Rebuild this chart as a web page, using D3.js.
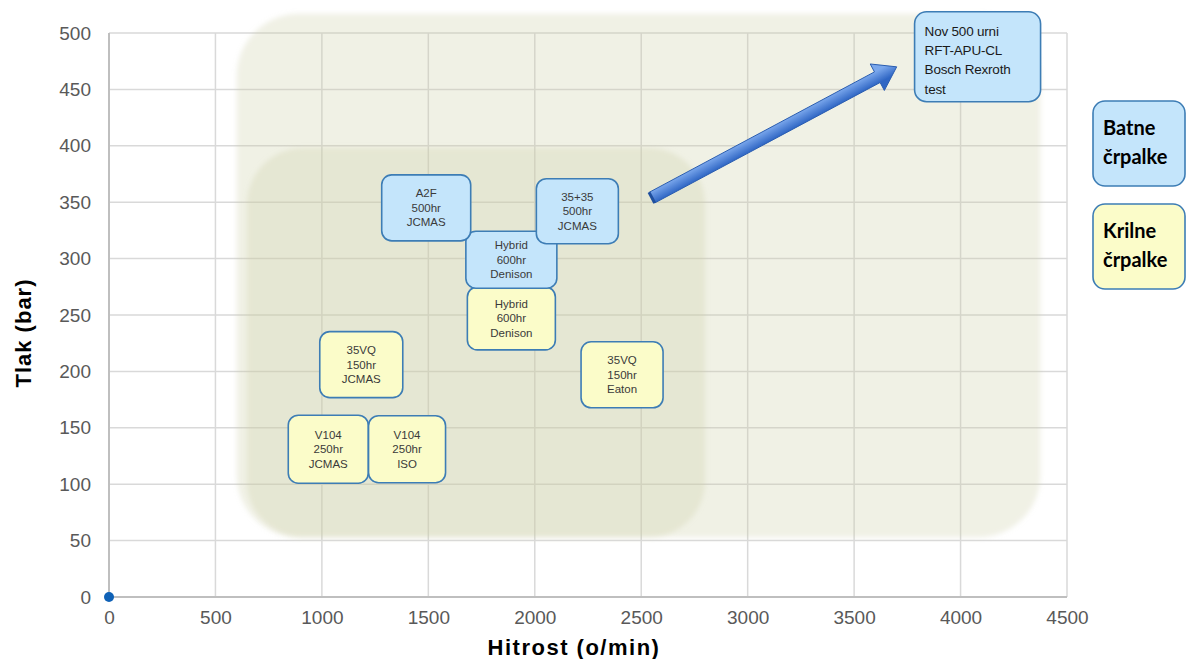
<!DOCTYPE html>
<html>
<head>
<meta charset="utf-8">
<script src="https://cdn.jsdelivr.net/npm/d3@7"></script>
<style>
  body { margin: 0; background: #fff; }
  svg { display: block; }
</style>
</head>
<body>
<script>
// ticks
var xTicks = [0, 500, 1000, 1500, 2000, 2500, 3000, 3500, 4000, 4500];
var yTicks = [0, 50, 100, 150, 200, 250, 300, 350, 400, 450, 500];

// testi črpalk (hitrost o/min, tlak bar)
var testLabels = [
  ["Hybrid", "600hr", "Denison"],
  ["Hybrid", "600hr", "Denison"],
  ["A2F", "500hr", "JCMAS"],
  ["35+35", "500hr", "JCMAS"],
  ["35VQ", "150hr", "JCMAS"],
  ["35VQ", "150hr", "Eaton"],
  ["V104", "250hr", "JCMAS"],
  ["V104", "250hr", "ISO"]
];
var testSpeed = [1890, 1890, 1490, 2200, 1185, 2410, 1030, 1400];
var testPressure = [247, 299, 345, 342, 206, 197, 131, 131];
var testType = ["krilne", "batne", "batne", "batne", "krilne", "krilne", "krilne", "krilne"];

// nov test
var newLabel = ["Nov 500 urni", "RFT-APU-CL", "Bosch Rexroth", "test"];
var newSpeed = 4080;
var newPressure = 479;

// puščica od obstoječih testov do novega
var arrowFrom = [2550, 354];
var arrowTo = [3700, 470];

// področja (x0, x1, y0, y1)
var zoneOuter = [600, 4375, 53, 517];
var zoneInner = [648, 2800, 53, 398];

// izhodišče
var originPoint = [0, 0];

// legenda
var legendLabels = [["Batne", "črpalke"], ["Krilne", "črpalke"]];
var legendTypes = ["batne", "krilne"];

// velikosti okvirjev (px)
var boxW = [88, 91, 89, 82, 83, 82, 80, 77];
var boxH = [63, 57, 66, 65, 66, 66, 68, 67];

var fills = { batne: "#c4e5fb", krilne: "#fbfcc9" };
var strokeCol = "#3d7db5";

var W = 1186, H = 659;
var svg = d3.select("body").append("svg")
    .attr("width", W)
    .attr("height", H);

var x = d3.scaleLinear().domain([0, 4500]).range([109, 1067]);
var y = d3.scaleLinear().domain([0, 500]).range([597, 33]);

var defs = svg.append("defs");
defs.append("filter").attr("id", "soft")
    .attr("x", "-5%").attr("y", "-5%").attr("width", "110%").attr("height", "110%")
    .append("feGaussianBlur").attr("stdDeviation", 2.5);

var grad = defs.append("linearGradient").attr("id", "arrowGrad")
    .attr("gradientUnits", "userSpaceOnUse");

// mreža
var grid = svg.append("g");
grid.selectAll("line.v")
    .data(xTicks)
    .enter().append("line")
    .attr("x1", d => x(d)).attr("x2", d => x(d))
    .attr("y1", y(0)).attr("y2", y(500))
    .attr("stroke", "#d9d9d9").attr("stroke-width", 1.5);
grid.selectAll("line.h")
    .data(yTicks)
    .enter().append("line")
    .attr("x1", x(0)).attr("x2", x(4500))
    .attr("y1", d => y(d)).attr("y2", d => y(d))
    .attr("stroke", "#d9d9d9").attr("stroke-width", 1.5);

// osi
svg.append("line")
    .attr("x1", x(0)).attr("x2", x(0)).attr("y1", y(0)).attr("y2", y(500))
    .attr("stroke", "#bfbfbf").attr("stroke-width", 2);
svg.append("line")
    .attr("x1", x(0)).attr("x2", x(4500)).attr("y1", y(0)).attr("y2", y(0))
    .attr("stroke", "#bfbfbf").attr("stroke-width", 2);

// področja
[zoneOuter, zoneInner].forEach(function (z, i) {
    svg.append("rect")
        .attr("x", x(z[0]))
        .attr("y", y(z[3]))
        .attr("width", x(z[1]) - x(z[0]))
        .attr("height", y(z[2]) - y(z[3]))
        .attr("rx", i == 0 ? 62 : 56)
        .attr("fill", "rgb(200,204,160)")
        .attr("fill-opacity", 0.28)
        .attr("filter", "url(#soft)");
});

// oznake osi
var xAxis = d3.axisBottom(x).tickValues(xTicks).tickFormat(d3.format("d")).tickSize(0).tickPadding(14);
var gx = svg.append("g").attr("transform", "translate(0," + y(0) + ")").call(xAxis);
var yAxis = d3.axisLeft(y).tickValues(yTicks).tickFormat(d3.format("d")).tickSize(0).tickPadding(18);
var gy = svg.append("g").attr("transform", "translate(" + x(0) + ",0)").call(yAxis);
[gx, gy].forEach(function (g) {
    g.select(".domain").remove();
    g.selectAll("text")
        .attr("font-family", "Liberation Sans, Arial, sans-serif")
        .attr("font-size", 19)
        .attr("fill", "#595959");
});

svg.append("text")
    .attr("x", 574).attr("y", 655)
    .attr("text-anchor", "middle")
    .attr("font-family", "Liberation Sans, Arial, sans-serif")
    .attr("font-weight", "bold")
    .attr("font-size", 22)
    .attr("letter-spacing", 1.5)
    .text("Hitrost (o/min)");

svg.append("text")
    .attr("transform", "translate(31,333) rotate(-90)")
    .attr("text-anchor", "middle")
    .attr("font-family", "Liberation Sans, Arial, sans-serif")
    .attr("font-weight", "bold")
    .attr("font-size", 22)
    .attr("letter-spacing", 1)
    .text("Tlak (bar)");

// izhodišče
svg.append("circle")
    .attr("cx", x(originPoint[0])).attr("cy", y(originPoint[1]))
    .attr("r", 5).attr("fill", "#0f61b6");

// puščica
var ax0 = x(arrowFrom[0]), ay0 = y(arrowFrom[1]);
var ax1 = x(arrowTo[0]), ay1 = y(arrowTo[1]);
var dx = ax1 - ax0, dy = ay1 - ay0, len = Math.sqrt(dx * dx + dy * dy);
var ux = dx / len, uy = dy / len, nx = -uy, ny = ux;
var shaftHalf = 6, headHalf = 15, headLen = 22;
var bx = ax1 - ux * headLen, by = ay1 - uy * headLen;
var pts = [
    [ax0 + nx * shaftHalf, ay0 + ny * shaftHalf],
    [bx + nx * shaftHalf, by + ny * shaftHalf],
    [bx + nx * headHalf, by + ny * headHalf],
    [ax1, ay1],
    [bx - nx * headHalf, by - ny * headHalf],
    [bx - nx * shaftHalf, by - ny * shaftHalf],
    [ax0 - nx * shaftHalf, ay0 - ny * shaftHalf]
];
grad.attr("x1", ax0 - nx * shaftHalf).attr("y1", ay0 - ny * shaftHalf)
    .attr("x2", ax0 + nx * shaftHalf).attr("y2", ay0 + ny * shaftHalf);
grad.append("stop").attr("offset", "0%").attr("stop-color", "#7aa7ec");
grad.append("stop").attr("offset", "100%").attr("stop-color", "#2f66c4");
svg.append("path")
    .attr("d", d3.line()(pts) + "Z")
    .attr("fill", "url(#arrowGrad)")
    .attr("stroke", "#2a5db0")
    .attr("stroke-width", 1)
    .attr("stroke-linejoin", "round");
svg.append("line")
    .attr("x1", ax0 + nx * shaftHalf).attr("y1", ay0 + ny * shaftHalf)
    .attr("x2", ax0 - nx * shaftHalf).attr("y2", ay0 - ny * shaftHalf)
    .attr("stroke", "#1f4f9e").attr("stroke-width", 3);

// okvirji testov
var boxes = svg.selectAll("g.box")
    .data(testLabels)
    .enter().append("g")
    .attr("transform", function (d, i) {
        return "translate(" + x(testSpeed[i]) + "," + y(testPressure[i]) + ")";
    });
boxes.append("rect")
    .attr("x", (d, i) => -boxW[i] / 2)
    .attr("y", (d, i) => -boxH[i] / 2)
    .attr("width", (d, i) => boxW[i])
    .attr("height", (d, i) => boxH[i])
    .attr("rx", 10)
    .attr("fill", (d, i) => fills[testType[i]])
    .attr("stroke", strokeCol)
    .attr("stroke-width", 1.6);
boxes.each(function (d) {
    var g = d3.select(this);
    d.forEach(function (line, j) {
        g.append("text")
            .attr("y", (j - 1) * 14.5 + 4)
            .attr("text-anchor", "middle")
            .attr("font-family", "Liberation Sans, Arial, sans-serif")
            .attr("font-size", 11.5)
            .attr("fill", "#3a3a3a")
            .text(line);
    });
});

// nov test
var ng = svg.append("g")
    .attr("transform", "translate(" + x(newSpeed) + "," + y(newPressure) + ")");
ng.append("rect")
    .attr("x", -63).attr("y", -45).attr("width", 126).attr("height", 90)
    .attr("rx", 12)
    .attr("fill", fills.batne)
    .attr("stroke", strokeCol)
    .attr("stroke-width", 1.6);
newLabel.forEach(function (line, j) {
    ng.append("text")
        .attr("x", -53)
        .attr("y", -21 + j * 19.3)
        .attr("font-family", "Liberation Sans, Arial, sans-serif")
        .attr("font-size", 13.5)
        .attr("letter-spacing", -0.2)
        .attr("fill", "#1a1a1a")
        .text(line);
});

// legenda
var lg = svg.selectAll("g.legend")
    .data(legendLabels)
    .enter().append("g")
    .attr("transform", (d, i) => "translate(1093," + (101 + i * 103) + ")");
lg.append("rect")
    .attr("width", 92).attr("height", 85)
    .attr("rx", 12)
    .attr("fill", (d, i) => fills[legendTypes[i]])
    .attr("stroke", strokeCol)
    .attr("stroke-width", 1.6);
lg.each(function (d) {
    var g = d3.select(this);
    d.forEach(function (line, j) {
        g.append("text")
            .attr("x", 10)
            .attr("y", 34 + j * 29)
            .attr("font-family", "Lato, Open Sans, sans-serif")
            .attr("font-weight", "bold")
            .attr("font-size", 20)
            .attr("fill", "#000")
            .text(line);
    });
});
</script>
</body>
</html>
